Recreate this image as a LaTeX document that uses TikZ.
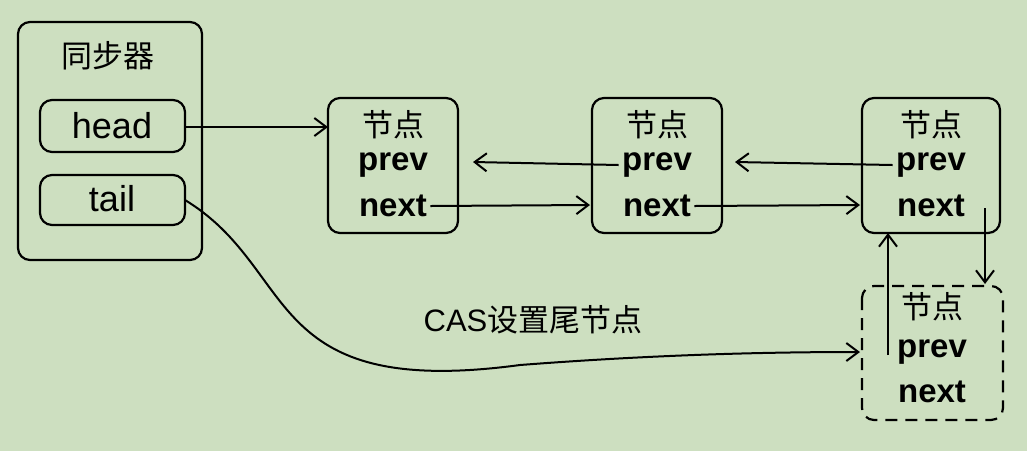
\documentclass[tikz,border=0pt]{standalone}
\usepackage{fontspec}
\setmainfont{Liberation Sans}
\newfontfamily\cjk{Noto Sans CJK SC}
\usetikzlibrary{arrows.meta}
\definecolor{bg}{HTML}{CDDFC0}
\begin{document}
\begin{tikzpicture}[x=1pt,y=-1pt,
  box/.style={draw,line width=2.2pt,rounded corners=12pt},
  arr/.style={line width=2pt,-{Straight Barb[length=12pt,width=18pt,line width=2pt]}},
  nt/.style={font=\fontsize{33}{33}\selectfont\bfseries},
  ct/.style={font=\fontsize{31}{31}\selectfont\cjk},
  pt/.style={font=\fontsize{36}{36}\selectfont}]
\fill[bg] (0,0) rectangle (1027,451);
\useasboundingbox (0,0) rectangle (1027,451);
\draw[box] (18,22) rectangle (202,260);
\node[ct] (title) at (108,56) {同步器};
\draw[box] (40,100) rectangle (185,152);
\node[pt] (head) at (112,126) {head};
\coordinate (headr) at (185,127);
\draw[box] (40,175) rectangle (185,225);
\node[pt] (tail) at (112,199) {tail};
\coordinate (tailr) at (185,200);
% nodes
\foreach \n/\x/\w in {1/328/130,2/592/130,3/862/138}{
  \draw[box] (\x,98) rectangle ++(\w,135);
  \node[ct] (c\n) at (\x+\w/2,125) {节点};
  \node[nt] (p\n) at (\x+\w/2,165) {prev};
  \node[nt] (n\n) at (\x+\w/2,206) {next};
}
\draw[box,dash pattern=on 12pt off 8pt] (862,286) rectangle (1003,420);
\node[ct] (c4) at (932,307) {节点};
\node[nt] (p4) at (932,352) {prev};
\node[nt] (n4) at (932,392) {next};
\coordinate (n1in) at (328,127);
\draw[arr] (headr) -- (n1in);
\draw[arr] (n1.east) -- (590,205);
\draw[arr] (p2.west) -- (473,162);
\draw[arr] (n2.east) -- (860,205);
\draw[arr] (p3.west) -- (735,162);
\coordinate (d1) at (985,208); \coordinate (d2) at (985,284);
\draw[arr] (d1) -- (d2);
\coordinate (u1) at (888,355); \coordinate (u2) at (888,233);
\draw[arr] (u1) -- (u2);
\coordinate (t2) at (860,352);
\draw[arr] (tailr) .. controls (300,270) and (260,400) .. (520,365) .. controls (650,355) and (760,352) .. (t2);
\node[font=\fontsize{31}{31}\selectfont] (lab) at (533,320) {CAS{\cjk 设置尾节点}};
\end{tikzpicture}
\end{document}
